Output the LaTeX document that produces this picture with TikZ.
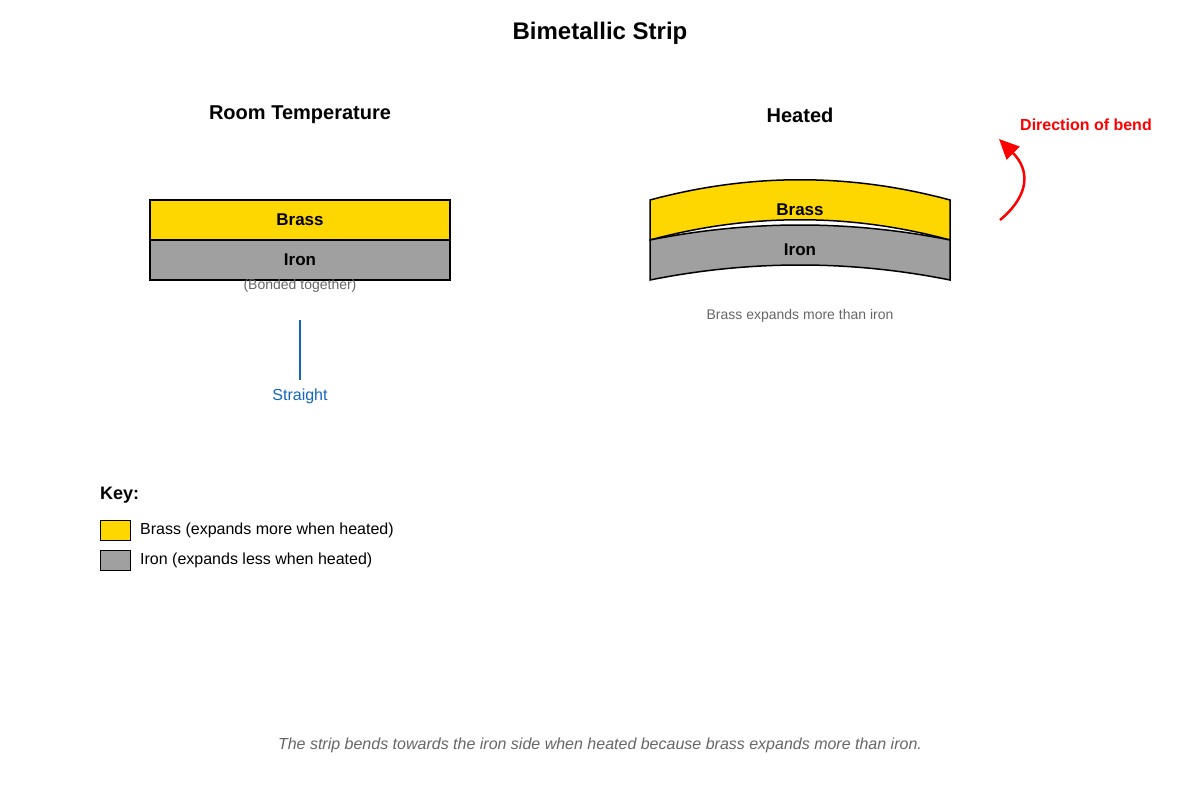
\documentclass[tikz,border=0pt]{standalone}
\usepackage{fontspec}
\setmainfont{Liberation Sans}
\usetikzlibrary{arrows.meta}
\definecolor{brass}{HTML}{FFD700}
\definecolor{iron}{HTML}{A0A0A0}
\definecolor{gtext}{HTML}{666666}
\definecolor{blu}{HTML}{1565C0}
\begin{document}
\begin{tikzpicture}[x=1pt,y=-1pt,
  lbl/.style={font=\bfseries\fontsize{17}{20}\selectfont},
  hd/.style={font=\bfseries\fontsize{20}{24}\selectfont},
  note/.style={text=gtext,font=\fontsize{14}{17}\selectfont},
  key/.style={font=\fontsize{16}{19}\selectfont,anchor=west,inner sep=0pt},
  strip/.style={draw=black,line width=1.5pt}]
\useasboundingbox (0,0) rectangle (1200,800);
\node[font=\bfseries\fontsize{24}{28}\selectfont] (title) at (600,33) {Bimetallic Strip};
\node[hd] (h1) at (300,115) {Room Temperature};
\node[hd] (h2) at (800,115) {Heated};
% room temp
\draw[strip,fill=brass] (150,200) rectangle (450,240);
\draw[strip,fill=iron] (150,240) rectangle (450,280);
\node[lbl] (b1) at (300,220) {Brass};
\node[lbl] (i1) at (300,260) {Iron};
\node[note] (bt) at (300,286) {(Bonded together)};
\coordinate (s1) at (300,320); \coordinate (s2) at (300,380);
\draw[blu,line width=1.5pt] (s1) -- (s2);
\node[text=blu,font=\fontsize{16}{19}\selectfont] (st) at (300,396) {Straight};
% heated
\draw[strip,fill=brass] (650,200) .. controls (750,173) and (850,173) .. (950,200) -- (950,240) .. controls (850,213) and (750,213) .. (650,240) -- cycle;
\draw[strip,fill=iron] (650,240) .. controls (750,220) and (850,220) .. (950,240) -- (950,280) .. controls (850,260) and (750,260) .. (650,280) -- cycle;
\node[lbl] (b2) at (800,210) {Brass};
\node[lbl] (i2) at (800,250) {Iron};
\node[note] (ex) at (800,316) {Brass expands more than iron};
\coordinate (a1) at (1000,220); \coordinate (a2) at (999,139);
\draw[red,line width=2.5pt,-{Triangle[length=20pt,width=18pt]}] (a1) .. controls (1030,195) and (1030,170) .. (a2);
\node[text=red,font=\bfseries\fontsize{16}{19}\selectfont] (db) at (1086,125) {Direction of bend};
% key
\node[font=\bfseries\fontsize{18}{22}\selectfont,anchor=west,inner sep=0pt] (k) at (100,495) {Key:};
\draw[line width=1pt,fill=brass] (100,520) rectangle (130,540);
\node[key] (k1) at (140,530) {Brass (expands more when heated)};
\draw[line width=1pt,fill=iron] (100,550) rectangle (130,570);
\node[key] (k2) at (140,560) {Iron (expands less when heated)};
\node[text=gtext,font=\itshape\fontsize{16}{19}\selectfont] (cap) at (600,745) {The strip bends towards the iron side when heated because brass expands more than iron.};
\end{tikzpicture}
\end{document}
